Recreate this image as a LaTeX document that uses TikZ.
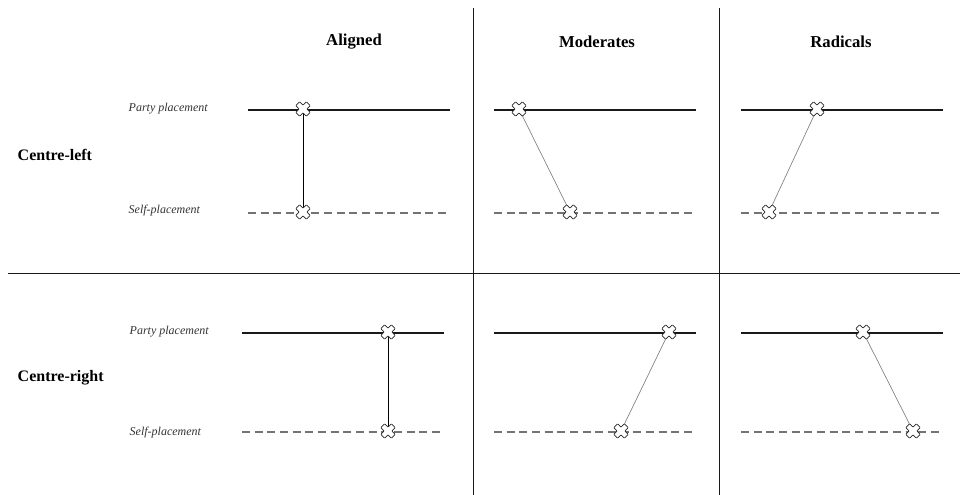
\documentclass[tikz,border=0pt]{standalone}
\usepackage{fontspec}
\setmainfont{Liberation Serif}
\begin{document}
\begin{tikzpicture}[x=0.75pt,y=-0.75pt,
  frame/.style={line width=0.75pt,black!90},
  partyline/.style={line width=1.4pt,black!90},
  selfline/.style={line width=1.3pt,black!55,dash pattern=on 6pt off 3.5pt},
  linkblack/.style={line width=0.6pt,black},
  linkgray/.style={line width=0.5pt,gray},
  head/.style={font=\fontsize{12.5}{14}\selectfont\bfseries},
  rowlab/.style={font=\fontsize{12}{14}\selectfont\bfseries,anchor=west},
  small/.style={font=\fontsize{9}{10}\selectfont\itshape,anchor=west,text=black!80},
  xmark/.pic={\filldraw[fill=white,draw=black!85,line width=0.5pt,rotate=45,rounded corners=0.4pt]
    (2.7,7.5)--(2.7,2.7)--(7.5,2.7)--(7.5,-2.7)--(2.7,-2.7)--(2.7,-7.5)--(-2.7,-7.5)--(-2.7,-2.7)
    --(-7.5,-2.7)--(-7.5,2.7)--(-2.7,2.7)--(-2.7,7.5)--cycle;}]
\useasboundingbox (0,0) rectangle (960,495);
% frame
\coordinate (v1t) at (473,8); \coordinate (v1b) at (473,495);
\coordinate (v2t) at (719,8); \coordinate (v2b) at (719,495);
\coordinate (hl) at (8,274); \coordinate (hr) at (960,274);
\draw[frame] (v1t) -- (v1b);
\draw[frame] (v2t) -- (v2b);
\draw[frame] (hl) -- (hr);
% headers
\node[head] (h1) at (354,42) {Aligned};
\node[head] (h2) at (597,42) {Moderates};
\node[head] (h3) at (841,42) {Radicals};
% row labels
\node[rowlab] (r1) at (13,155) {Centre-left};
\node[rowlab] (r2) at (13,378) {Centre-right};
\node[small] (pp1) at (124,109) {Party placement};
\node[small] (sp1) at (124,211) {Self-placement};
\node[small] (pp2) at (125,332) {Party placement};
\node[small] (sp2) at (125,433) {Self-placement};
% top row lines
\coordinate (a1l) at (248,110); \coordinate (a1r) at (450,110);
\coordinate (b1l) at (248,213); \coordinate (b1r) at (450,213);
\coordinate (a2l) at (494,110); \coordinate (a2r) at (696,110);
\coordinate (b2l) at (494,213); \coordinate (b2r) at (696,213);
\coordinate (a3l) at (741,110); \coordinate (a3r) at (943,110);
\coordinate (b3l) at (741,213); \coordinate (b3r) at (943,213);
% bottom row lines
\coordinate (c1l) at (242,333); \coordinate (c1r) at (444,333);
\coordinate (d1l) at (242,432); \coordinate (d1r) at (444,432);
\coordinate (c2l) at (494,333); \coordinate (c2r) at (696,333);
\coordinate (d2l) at (494,432); \coordinate (d2r) at (696,432);
\coordinate (c3l) at (741,333); \coordinate (c3r) at (943,333);
\coordinate (d3l) at (741,432); \coordinate (d3r) at (943,432);
\foreach \n in {a1,a2,a3,c1,c2,c3}{\draw[partyline] (\n l) -- (\n r);}
\foreach \n in {b1,b2,b3,d1,d2,d3}{\draw[selfline] (\n l) -- (\n r);}
% markers
\coordinate (pa1) at (303,109); \coordinate (sa1) at (303,212);
\coordinate (pa2) at (519,109); \coordinate (sa2) at (570,212);
\coordinate (pa3) at (817,109); \coordinate (sa3) at (769,212);
\coordinate (pc1) at (388,332); \coordinate (sc1) at (388,431);
\coordinate (pc2) at (669,332); \coordinate (sc2) at (621,431);
\coordinate (pc3) at (863,332); \coordinate (sc3) at (913,431);
\draw[linkblack] (pa1) -- (sa1);
\draw[linkgray] (pa2) -- (sa2);
\draw[linkgray] (pa3) -- (sa3);
\draw[linkblack] (pc1) -- (sc1);
\draw[linkgray] (pc2) -- (sc2);
\draw[linkgray] (pc3) -- (sc3);
\foreach \p in {pa1,sa1,pa2,sa2,pa3,sa3,pc1,sc1,pc2,sc2,pc3,sc3}{\pic at (\p) {xmark};}
\end{tikzpicture}
\end{document}
